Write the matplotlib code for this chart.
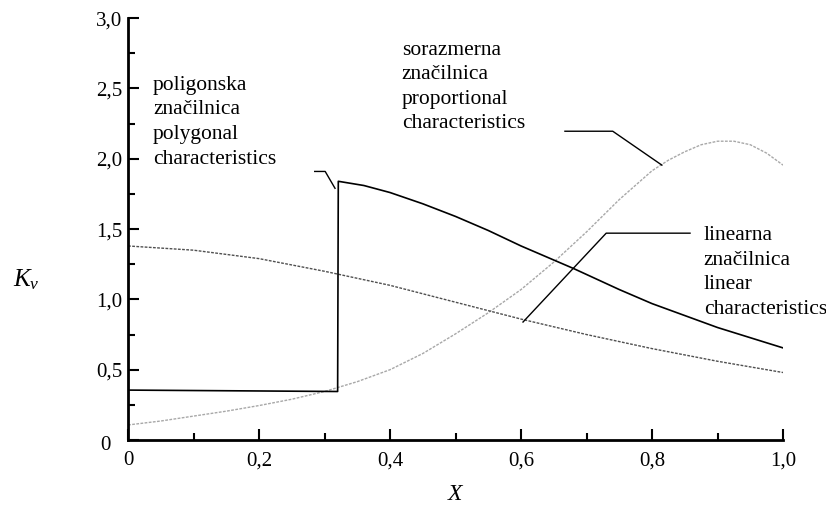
import matplotlib.pyplot as plt
from matplotlib.ticker import MultipleLocator, FuncFormatter

# polygonal characteristic (solid)
x_poly = [0.0, 0.32, 0.321, 0.36, 0.40, 0.45, 0.50, 0.55, 0.60, 0.68, 0.75, 0.80, 0.90, 1.0]
k_poly = [0.355, 0.345, 1.84, 1.81, 1.76, 1.68, 1.59, 1.49, 1.38, 1.22, 1.07, 0.97, 0.80, 0.655]

# linear characteristic (dark dotted)
x_lin = [0.0, 0.1, 0.2, 0.3, 0.4, 0.5, 0.6, 0.7, 0.8, 0.9, 1.0]
k_lin = [1.38, 1.35, 1.29, 1.20, 1.10, 0.98, 0.86, 0.75, 0.65, 0.56, 0.48]

# proportional characteristic (light dotted)
x_prop = [0.0, 0.05, 0.1, 0.15, 0.2, 0.25, 0.3, 0.35, 0.4, 0.45, 0.5, 0.55, 0.6,
          0.65, 0.7, 0.75, 0.8, 0.825, 0.85, 0.875, 0.9, 0.925, 0.95, 0.975, 1.0]
k_prop = [0.107, 0.135, 0.17, 0.205, 0.245, 0.29, 0.345, 0.415, 0.50, 0.615, 0.755, 0.905, 1.07,
          1.265, 1.48, 1.71, 1.915, 1.99, 2.05, 2.10, 2.125, 2.125, 2.10, 2.04, 1.955]

# leader lines: text end -> elbow -> point on curve
lead_poly = ([0.285, 0.301, 0.316], [1.91, 1.91, 1.79])
lead_prop = ([0.667, 0.740, 0.815], [2.196, 2.196, 1.955])
lead_lin = ([0.858, 0.730, 0.603], [1.471, 1.471, 0.839])

txt_poly = "poligonska\nznačilnica\npolygonal\ncharacteristics"
txt_prop = "sorazmerna\nznačilnica\nproportional\ncharacteristics"
txt_lin = "linearna\nznačilnica\nlinear\ncharacteristics"

plt.rcParams['font.family'] = ['Liberation Serif', 'DejaVu Serif']
plt.rcParams['mathtext.fontset'] = 'custom'
plt.rcParams['mathtext.it'] = 'Liberation Serif:italic'
plt.rcParams['mathtext.rm'] = 'Liberation Serif'

fig = plt.figure(figsize=(8.26, 5.05), dpi=100)
ax = fig.add_axes([0.155, 0.1287, 0.793, 0.8353])

ax.plot(x_prop, k_prop, color='#a8a8a8', lw=1.0, ls=(0, (2, 1)))
ax.plot(x_lin, k_lin, color='#505050', lw=1.0, ls=(0, (2, 1)))
ax.plot(x_poly, k_poly, color='black', lw=1.2)

for lx, ly in (lead_poly, lead_prop, lead_lin):
    ax.plot(lx, ly, color='black', lw=1.0)

fs = 15.5
ls = 1.4
ax.text(0.038, 2.59, txt_poly, fontsize=fs, va='top', ha='left', linespacing=ls)
ax.text(0.418, 2.84, txt_prop, fontsize=fs, va='top', ha='left', linespacing=ls)
ax.text(0.879, 1.52, txt_lin, fontsize=fs, va='top', ha='left', linespacing=ls)

ax.set_xlim(0, 1.0)
ax.set_ylim(0, 3.0)
for s in ('top', 'right'):
    ax.spines[s].set_visible(False)
for s in ('left', 'bottom'):
    ax.spines[s].set_linewidth(2.0)

ax.xaxis.set_major_locator(MultipleLocator(0.2))
ax.xaxis.set_minor_locator(MultipleLocator(0.1))
ax.yaxis.set_major_locator(MultipleLocator(0.5))
ax.yaxis.set_minor_locator(MultipleLocator(0.25))


def fmt(v, pos):
    if abs(v) < 1e-9:
        return '0'
    return ('%.1f' % v).replace('.', ',')


def fmt_y(v, pos):
    if abs(v) < 1e-9:
        return ''
    return fmt(v, pos)


ax.xaxis.set_major_formatter(FuncFormatter(fmt))
ax.yaxis.set_major_formatter(FuncFormatter(fmt_y))
ax.tick_params(which='major', direction='in', length=8, width=1.5, labelsize=15, pad=8)
ax.tick_params(which='minor', direction='in', length=5, width=1.5)
ax.tick_params(axis='y', which='major', pad=4)
ax.text(-0.027, -0.012, '0', transform=ax.transAxes, ha='right', va='center', fontsize=15)

ax.set_xlabel('$X$', fontsize=17, labelpad=10)
ax.text(-0.176, 0.38, '$K_v$', transform=ax.transAxes, fontsize=18, ha='left', va='center')

fig.savefig('out.png', dpi=100)
